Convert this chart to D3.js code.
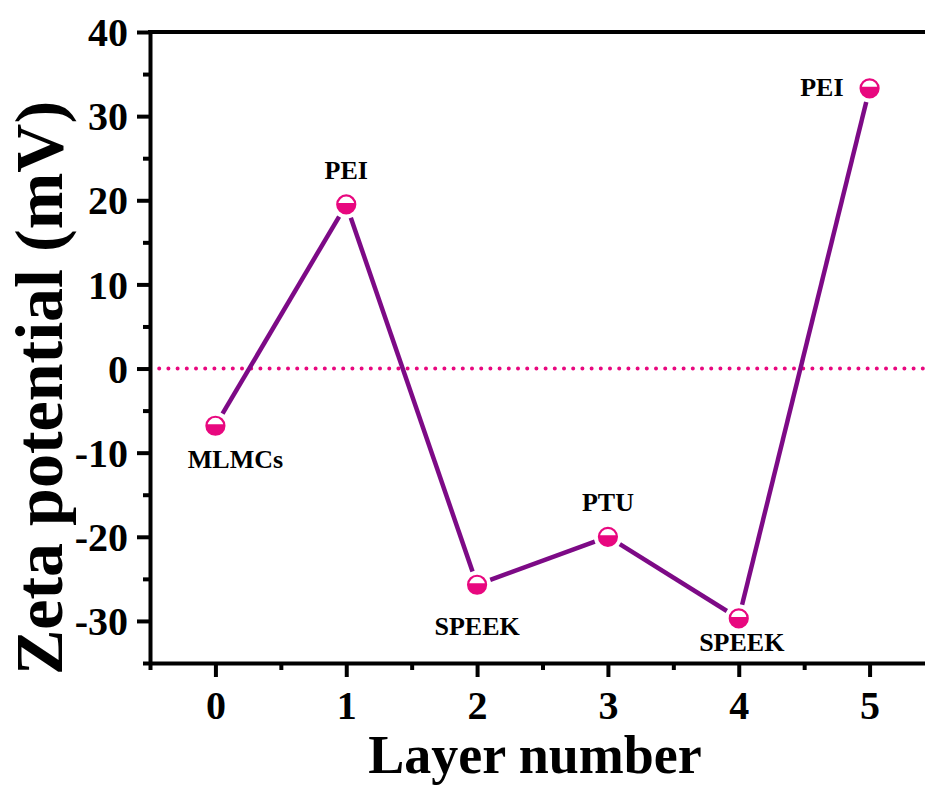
<!DOCTYPE html>
<html>
<head>
<meta charset="utf-8">
<script src="https://cdn.jsdelivr.net/npm/d3@7"></script>
<style>
  html, body { margin: 0; padding: 0; background: #fff; }
  svg { display: block; }
  text { font-family: "Liberation Serif", "Times New Roman", serif; font-weight: bold; fill: #000; }
</style>
</head>
<body>
<svg id="chart" width="925" height="787"></svg>
<script>
// Zeta potential after each deposited layer
const layers = [0, 1, 2, 3, 4, 5];
const zeta = [-6.8, 19.5, -25.7, -20.0, -29.7, 33.3];
const layerNames = ["MLMCs", "PEI", "SPEEK", "PTU", "SPEEK", "PEI"];
const xTicks = [0, 1, 2, 3, 4, 5];
const yTicks = [-30, -20, -10, 0, 10, 20, 30, 40];

// label placement relative to each point (dx, dy, anchor)
const labelPos = [
  [20, 42, "middle"],
  [0, -25, "middle"],
  [0, 50, "middle"],
  [0, -26, "middle"],
  [3, 33, "middle"],
  [-26, 8, "end"]
];

const svg = d3.select("#chart");
const margin = { left: 150, top: 32, right: -10, bottom: 124 };
const W = 925, H = 787;

const x = d3.scaleLinear().domain([-0.5, 5.5]).range([margin.left, W - margin.right]);
const y = d3.scaleLinear().domain([-35, 40]).range([H - margin.bottom, margin.top]);

const pink = "#e8087f";
const purple = "#7d0a86";
const plainInt = d => String(d);

// zero reference line (dotted)
svg.append("line")
  .attr("x1", x(-0.5)).attr("x2", W)
  .attr("y1", y(0)).attr("y2", y(0))
  .attr("stroke", pink).attr("stroke-width", 4)
  .attr("stroke-linecap", "round")
  .attr("stroke-dasharray", "0 9.2");

// connecting segments, trimmed so they stop short of the markers
const gap = 14;
const pts = layers.map((l, i) => [x(l), y(zeta[i])]);
for (let i = 0; i < pts.length - 1; i++) {
  const [x1, y1] = pts[i], [x2, y2] = pts[i + 1];
  const len = Math.hypot(x2 - x1, y2 - y1);
  const ux = (x2 - x1) / len, uy = (y2 - y1) / len;
  svg.append("line")
    .attr("x1", x1 + ux * gap).attr("y1", y1 + uy * gap)
    .attr("x2", x2 - ux * gap).attr("y2", y2 - uy * gap)
    .attr("stroke", purple).attr("stroke-width", 4.5)
    .attr("stroke-linecap", "butt");
}

// half-filled circle markers
const defs = svg.append("defs");
defs.append("clipPath").attr("id", "lowerHalf")
  .append("rect").attr("x", -12).attr("y", -1.5).attr("width", 24).attr("height", 14);

const mk = svg.append("g").selectAll("g").data(layers).join("g")
  .attr("transform", (d, i) => `translate(${x(d)},${y(zeta[i])})`);
mk.append("circle").attr("r", 9).attr("fill", "#fff");
mk.append("circle").attr("r", 9).attr("fill", pink).attr("clip-path", "url(#lowerHalf)");
mk.append("circle").attr("r", 9).attr("fill", "none").attr("stroke", pink).attr("stroke-width", 2.2);

// point labels
svg.append("g").selectAll("text").data(layers).join("text")
  .attr("x", (d, i) => x(d) + labelPos[i][0])
  .attr("y", (d, i) => y(zeta[i]) + labelPos[i][1])
  .attr("text-anchor", (d, i) => labelPos[i][2])
  .attr("font-size", 26)
  .text((d, i) => layerNames[i]);

// axes
const axisStyle = g => {
  g.selectAll(".domain").attr("stroke", "#000").attr("stroke-width", 4);
  g.selectAll(".tick line").attr("stroke", "#000").attr("stroke-width", 4);
};

const xAxis = svg.append("g")
  .attr("transform", `translate(0,${y(-35)})`)
  .call(d3.axisBottom(x).tickValues(xTicks).tickSize(14).tickSizeOuter(0).tickPadding(14).tickFormat(plainInt));
axisStyle(xAxis);
xAxis.selectAll(".tick text").attr("font-size", 40).attr("font-family", "Liberation Serif").attr("font-weight", "bold").attr("dy", "0.71em");

const xMinor = svg.append("g")
  .attr("transform", `translate(0,${y(-35)})`)
  .call(d3.axisBottom(x).tickValues(d3.range(-0.5, 5.5, 1)).tickSize(7).tickFormat(""));
xMinor.select(".domain").remove();
axisStyle(xMinor);

const yAxis = svg.append("g")
  .attr("transform", `translate(${x(-0.5)},0)`)
  .call(d3.axisLeft(y).tickValues(yTicks).tickSize(13).tickSizeOuter(0).tickPadding(9).tickFormat(plainInt));
axisStyle(yAxis);
yAxis.selectAll(".tick text").attr("font-size", 40).attr("font-family", "Liberation Serif").attr("font-weight", "bold").attr("dy", "0.34em");

const yMinor = svg.append("g")
  .attr("transform", `translate(${x(-0.5)},0)`)
  .call(d3.axisLeft(y).tickValues(d3.range(-35, 40, 10)).tickSize(7).tickFormat(""));
yMinor.select(".domain").remove();
axisStyle(yMinor);

// top frame line
svg.append("line")
  .attr("x1", x(-0.5) - 2).attr("x2", W)
  .attr("y1", y(40)).attr("y2", y(40))
  .attr("stroke", "#000").attr("stroke-width", 4);

// axis titles
svg.append("text")
  .attr("x", 535).attr("y", 773)
  .attr("text-anchor", "middle")
  .attr("font-size", 54)
  .text("Layer number");

svg.append("text")
  .attr("transform", `translate(62,388) rotate(-90)`)
  .attr("text-anchor", "middle")
  .attr("font-size", 68)
  .text("Zeta potential (mV)");
</script>
</body>
</html>
